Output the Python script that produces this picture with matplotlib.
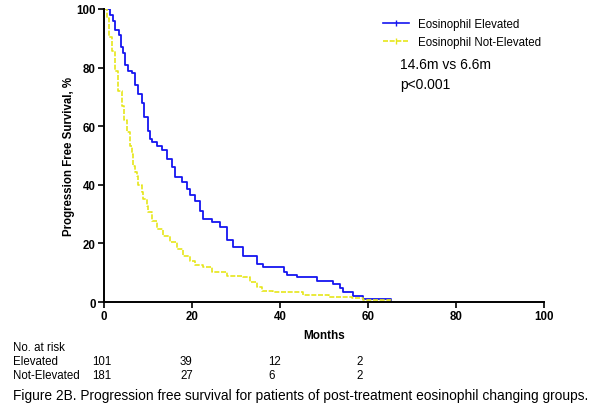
import numpy as np
import matplotlib
matplotlib.use("Agg")
import matplotlib.pyplot as plt
from matplotlib.lines import Line2D
from matplotlib import transforms

plt.rcParams['font.family'] = ['Liberation Sans', 'DejaVu Sans']

# Kaplan-Meier steps (months, % surviving after the step)
elev_t = [0, 1.4, 2.1, 2.6, 3.3, 3.9, 4.3, 4.8, 5.5, 6.3, 7.0, 7.8, 8.6, 9.1, 9.9,
          10.5, 10.8, 12.0, 13.1, 14.3, 15.4, 16.1, 17.7, 18.8, 19.5, 20.7, 21.8,
          22.6, 24.5, 26.4, 27.9, 29.4, 31.7, 34.7, 36.2, 40.8, 41.5, 43.9, 48.3,
          52.1, 53.6, 54.4, 56.7, 58.9, 65.2]
elev_s = [100, 98, 96, 93, 91, 87, 85, 81, 79, 78, 74, 71, 68, 63, 58.5,
          55.6, 54.6, 53.4, 52, 48.8, 46, 42.7, 41, 38.6, 36.4, 34.6, 31,
          28.3, 27.3, 25.6, 21, 18.7, 15.8, 13, 11.8, 10.1, 9.3, 8.4, 7.3,
          6.1, 4.7, 3.3, 2.2, 1.0, 0]

notel_t = [0, 0.6, 1.2, 1.75, 2.5, 3.25, 4.0, 4.5, 5.2, 5.9, 6.3, 6.7, 7.0, 7.4,
           7.8, 8.6, 8.9, 9.7, 10.1, 10.8, 12.0, 13.5, 15.0, 16.5, 18.0, 19.5,
           20.7, 22.6, 24.5, 27.9, 31.7, 33.2, 34.7, 35.8, 38.5, 45.3, 51.2,
           56.3, 58.9, 65.6]
notel_s = [100, 97, 90.3, 85.8, 79, 72, 67, 62, 57.9, 53.4, 50.5, 46.5, 44.3, 43.1,
           40, 37.4, 35.2, 32.9, 30.7, 27.5, 24.9, 22.6, 20.4, 18.1, 15.8, 14.1,
           12.6, 11.8, 10.3, 9, 8.4, 6.7, 5.0, 3.9, 3.3, 2.5, 1.8,
           1.3, 0.6, 0.6]

risk_times = [0, 20, 40, 60]
risk_elev = [101, 39, 12, 2]
risk_notel = [181, 27, 6, 2]

blue = '#1515F0'
yellow = '#E6E61A'

fig = plt.figure(figsize=(5.97, 4.14), dpi=100)
ax = fig.add_axes([104/597, 1 - 303/414, 440/597, 293/414])

ax.step(elev_t, elev_s, where='post', color=blue, lw=1.3)
ax.step(notel_t, notel_s, where='post', color=yellow, lw=1.2, ls=(0, (3, 1)))

ax.set_xlim(0, 100)
ax.set_ylim(0, 100)
ax.set_xticks(range(0, 101, 20))
ax.set_yticks(range(0, 101, 20))
for sp in ['top', 'right']:
    ax.spines[sp].set_visible(False)
for sp in ['left', 'bottom']:
    ax.spines[sp].set_linewidth(1.4)
ax.tick_params(width=1.2, length=4, labelsize=8.3, pad=2)
for lab in ax.get_xticklabels() + ax.get_yticklabels():
    lab.set_fontweight('bold')
ax.set_xlabel('Months', fontsize=8.5, fontweight='bold', labelpad=5)
ax.set_ylabel('Progression Free Survival, %', fontsize=8.3, fontweight='bold', labelpad=1)

handles = [Line2D([], [], color=blue, lw=1.2, marker='|', markersize=4),
           Line2D([], [], color=yellow, lw=1.2, ls=(0, (3, 1)), marker='|', markersize=4)]
ax.legend(handles, ['Eosinophil Elevated', 'Eosinophil Not-Elevated'],
          loc='upper left', bbox_to_anchor=(0.611, 1.003), frameon=False,
          fontsize=8.3, handlelength=2.2, handletextpad=0.8, labelspacing=0.45)

fig.text(400/597, 1 - 65/414, '14.6m vs 6.6m', fontsize=10, va='center')
fig.text(400/597, 1 - 85/414, 'p<0.001', fontsize=10, va='center')

# numbers at risk table
fs = 8.3
fig.text(13/597, 1 - 348/414, 'No. at risk', fontsize=fs, va='center')
fig.text(13/597, 1 - 362/414, 'Elevated', fontsize=fs, va='center')
fig.text(13/597, 1 - 376/414, 'Not-Elevated', fontsize=fs, va='center')
trans = transforms.blended_transform_factory(ax.transData, fig.transFigure)
shift = transforms.ScaledTranslation(-12/100, 0, fig.dpi_scale_trans)
for t, a, b in zip(risk_times, risk_elev, risk_notel):
    fig.text(t, 1 - 362/414, str(a), fontsize=fs, va='center', transform=trans + shift)
    fig.text(t, 1 - 376/414, str(b), fontsize=fs, va='center', transform=trans + shift)

fig.text(13/597, 1 - 396/414,
         'Figure 2B. Progression free survival for patients of post-treatment eosinophil changing groups.',
         fontsize=9.9, va='center')

fig.savefig('out.png', dpi=100)
